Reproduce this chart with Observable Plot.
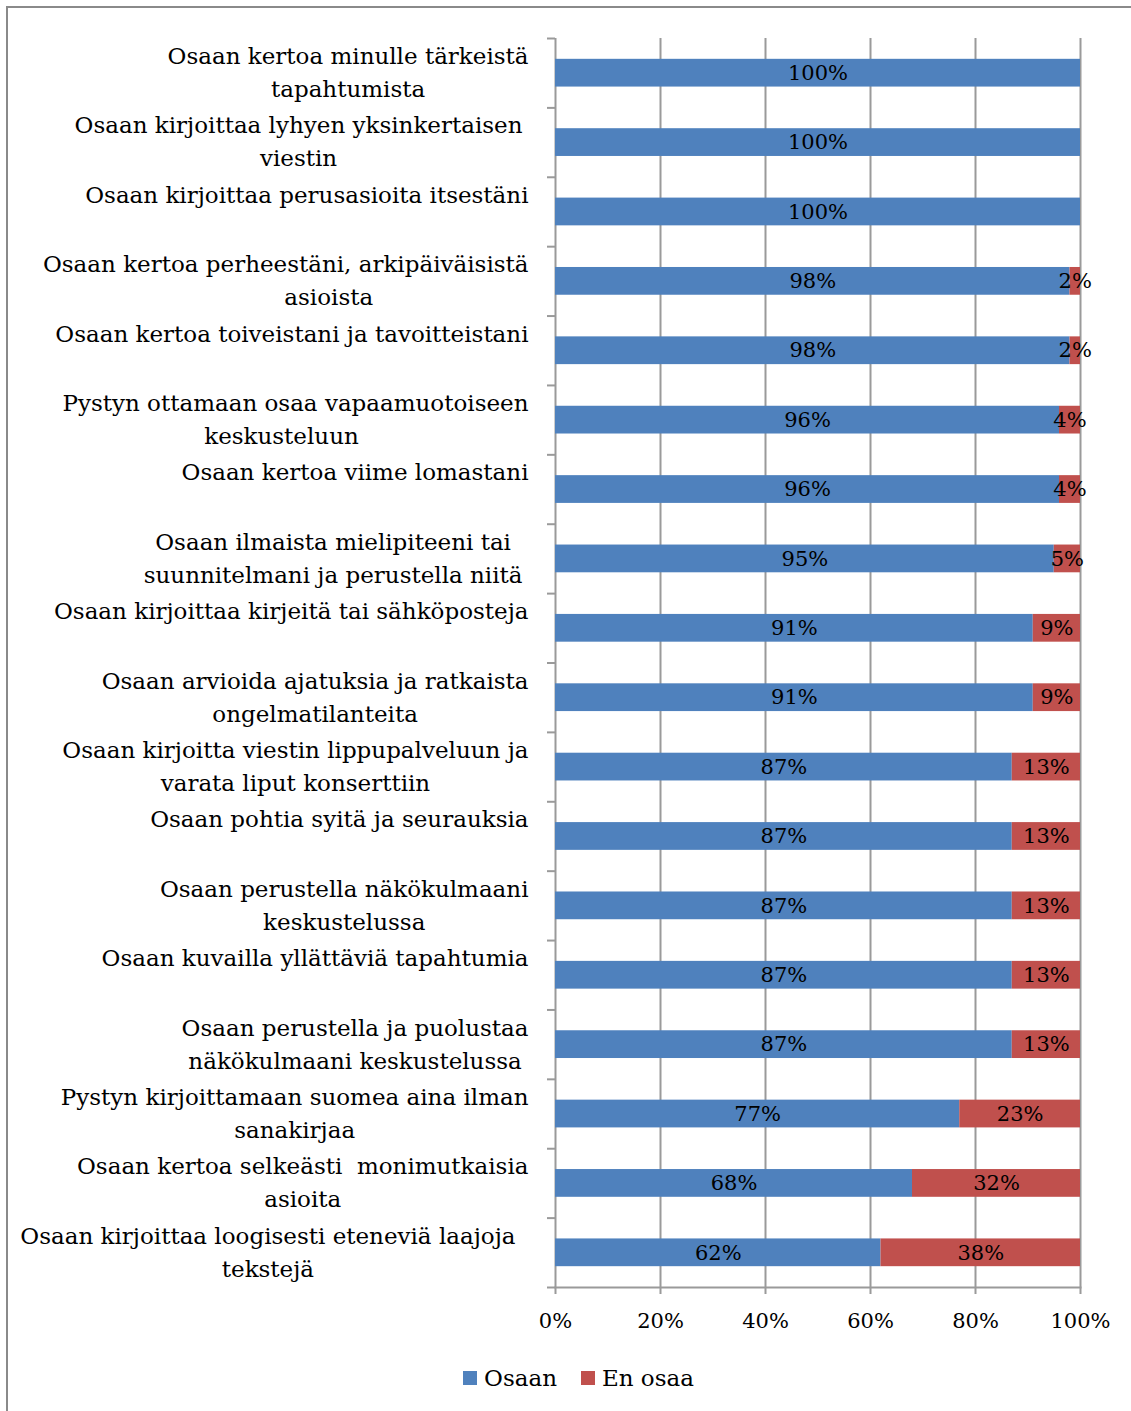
<!DOCTYPE html>
<html>
<head>
<meta charset="utf-8">
<script src="https://cdn.jsdelivr.net/npm/d3@7"></script>
<script src="https://cdn.jsdelivr.net/npm/@observablehq/plot@0.6"></script>
<style>
  html, body { margin: 0; padding: 0; background: #fff; overflow: hidden; }
  #page { position: relative; width: 1131px; height: 1411px; overflow: hidden; }
  #border { position: absolute; left: 6px; top: 6px; width: 1200px; height: 1500px;
            border: 2px solid #8a8a8a; box-sizing: border-box; }
  #chart { position: absolute; left: 0; top: 0; }
  #chart text { white-space: pre; }
  #legend { position: absolute; left: 0; top: 1365px; width: 1131px; box-sizing: border-box;
            padding-left: 26px; display: flex; justify-content: center; align-items: center;
            font-family: "DejaVu Serif", serif; font-size: 23px; color: #000; }
  .item { display: flex; align-items: center; margin: 0 12px; }
  .swatch { width: 14px; height: 14px; margin-right: 7px; }
</style>
</head>
<body>
<div id="page">
  <div id="border"></div>
  <div id="chart"></div>
  <div id="legend"></div>
</div>
<script>
// Survey statements (line breaks mark where each label wraps)
const categories = [
  "Osaan kertoa minulle tärkeistä\ntapahtumista",
  "Osaan kirjoittaa lyhyen yksinkertaisen\nviestin",
  "Osaan kirjoittaa perusasioita itsestäni",
  "Osaan kertoa perheestäni, arkipäiväisistä\nasioista",
  "Osaan kertoa toiveistani ja tavoitteistani",
  "Pystyn ottamaan osaa vapaamuotoiseen\nkeskusteluun",
  "Osaan kertoa viime lomastani",
  "Osaan ilmaista mielipiteeni tai\nsuunnitelmani ja perustella niitä",
  "Osaan kirjoittaa kirjeitä tai sähköposteja",
  "Osaan arvioida ajatuksia ja ratkaista\nongelmatilanteita",
  "Osaan kirjoitta viestin lippupalveluun ja\nvarata liput konserttiin",
  "Osaan pohtia syitä ja seurauksia",
  "Osaan perustella näkökulmaani\nkeskustelussa",
  "Osaan kuvailla yllättäviä tapahtumia",
  "Osaan perustella ja puolustaa\nnäkökulmaani keskustelussa",
  "Pystyn kirjoittamaan suomea aina ilman\nsanakirjaa",
  "Osaan kertoa selkeästi  monimutkaisia\nasioita",
  "Osaan kirjoittaa loogisesti eteneviä laajoja\ntekstejä"
];

// Share of answers, percent
const osaan   = [100, 100, 100, 98, 98, 96, 96, 95, 91, 91, 87, 87, 87, 87, 87, 77, 68, 62];
const enOsaa  = [  0,   0,   0,  2,  2,  4,  4,  5,  9,  9, 13, 13, 13, 13, 13, 23, 32, 38];

const seriesNames = ["Osaan", "En osaa"];
const seriesColors = ["#4F81BD", "#C0504D"];
const xTicks = [0, 20, 40, 60, 80, 100];

// Long-form table for the stacked bars
const rows = categories.flatMap((c, i) => [
  {category: c, series: seriesNames[0], value: osaan[i]},
  {category: c, series: seriesNames[1], value: enOsaa[i]}
]);

// Layout
const W = 1131, H = 1345;
const mL = 555, mR = 51, mT = 38, mB = H - 1287;
const step = (H - mT - mB) / categories.length;
const gridColor = "#9a9a9a";
const labelFont = "'DejaVu Serif', serif";
const labelSize = 23;
const labelGap = 27;          // space between label block and the axis
const lineOffset = 16.5;      // half of the label line spacing
// small per-label nudges of the wrapped category labels
const labelRightInset = [0, 6, 0, 0, 0, 0, 0, 6, 0, 0, 0, 0, 0, 0, 0, 0, 0, 13];
const secondLineShift = [0, 0, 0, 43, 0, -14, 0, 0, 0, 0, 0, 0, 0, 0, 0, 0, 0, 0];

const ctx = document.createElement("canvas").getContext("2d");
ctx.font = `${labelSize}px ${labelFont}`;

const labelMarks = categories.flatMap((c, i) => {
  const lines = c.split("\n");
  const blockW = Math.max(...lines.map(l => ctx.measureText(l).width));
  const center = labelGap + labelRightInset[i] + blockW / 2;
  return [
    Plot.text([c], {y: d => d, text: () => lines[0], frameAnchor: "left",
      dx: -center, dy: -lineOffset, textAnchor: "middle", lineAnchor: "middle",
      fontSize: labelSize, fill: "#000"}),
    lines[1] ? Plot.text([c], {y: d => d, text: () => lines[1], frameAnchor: "left",
      dx: -center + secondLineShift[i], dy: lineOffset, textAnchor: "middle", lineAnchor: "middle",
      fontSize: labelSize, fill: "#000"}) : null
  ];
}).filter(Boolean);

const chart = Plot.plot({
  width: W,
  height: H,
  marginLeft: mL,
  marginRight: mR,
  marginTop: mT,
  marginBottom: mB,
  style: {fontFamily: labelFont, fontSize: "21px", color: "#000", background: "transparent", overflow: "visible"},
  x: {domain: [0, 100]},
  y: {domain: categories, paddingInner: 0.6, paddingOuter: 0.3, round: false},
  color: {domain: seriesNames, range: seriesColors},
  marks: [
    // vertical gridlines, extended below the frame as axis ticks
    Plot.ruleX(xTicks, {stroke: gridColor, strokeWidth: 2, insetBottom: -7}),
    Plot.frame({anchor: "bottom", stroke: gridColor, strokeWidth: 2}),
    // category separators on the left axis
    Plot.axisY({tickSize: 8, tickFormat: () => "", label: null, stroke: gridColor, strokeWidth: 2, dy: -step / 2}),
    Plot.axisY([categories[categories.length - 1]], {tickSize: 8, tickFormat: () => "", label: null,
      stroke: gridColor, strokeWidth: 2, dy: step / 2}),
    Plot.barX(rows, Plot.stackX({y: "category", x: "value", fill: "series", order: seriesNames})),
    Plot.text(rows.filter(d => d.value > 0), Plot.stackX({
      y: "category", x: "value", z: "series", order: seriesNames,
      text: d => d.value + "%", fill: "#000", fontSize: 21
    })),
    Plot.axisX(xTicks, {tickSize: 0, tickPadding: 26, label: null, tickFormat: d => d + "%", fontSize: 21, fill: "#000"}),
    ...labelMarks
  ]
});
document.getElementById("chart").append(chart);

// Legend below the chart
const legend = document.getElementById("legend");
seriesNames.forEach((name, i) => {
  const item = document.createElement("div");
  item.className = "item";
  const sw = document.createElement("div");
  sw.className = "swatch";
  sw.style.background = seriesColors[i];
  const label = document.createElement("span");
  label.textContent = name;
  item.append(sw, label);
  legend.append(item);
});
</script>
</body>
</html>
